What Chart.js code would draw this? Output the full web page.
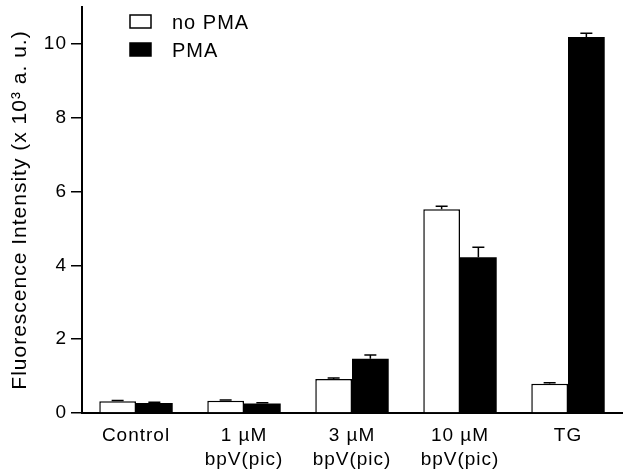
<!DOCTYPE html>
<html>
<head>
<meta charset="utf-8">
<script src="https://cdn.jsdelivr.net/npm/chart.js@4/dist/chart.umd.min.js"></script>
<style>
  html, body { margin: 0; padding: 0; background: #fff; }
  #wrap { width: 623px; height: 476px; }
</style>
</head>
<body>
<div id="wrap"><canvas id="bars" width="623" height="476"></canvas></div>
<script>
const categories = [['Control'], ['1 \u00b5M', 'bpV(pic)'], ['3 \u00b5M', 'bpV(pic)'], ['10 \u00b5M', 'bpV(pic)'], ['TG']];
const noPMA = [0.32, 0.33, 0.92, 5.52, 0.79];
const noPMAErr = [0.02, 0.02, 0.03, 0.08, 0.03];
const withPMA = [0.27, 0.26, 1.47, 4.22, 10.19];
const withPMAErr = [0.02, 0.02, 0.10, 0.27, 0.10];
const yTicks = [0, 2, 4, 6, 8, 10];

const font = 'Liberation Sans, Arial, Helvetica, sans-serif';

// scanned Helvetica looks a bit loose, widen the letters a touch
const spacing = {
  id: 'spacing',
  beforeInit(chart) { chart.ctx.letterSpacing = '1px'; },
  beforeDraw(chart) { chart.ctx.letterSpacing = '1px'; }
};

// error bars, upward only
const errorBars = {
  id: 'errorBars',
  afterDatasetsDraw(chart) {
    const ctx = chart.ctx;
    const y = chart.scales.y;
    ctx.save();
    ctx.strokeStyle = '#000';
    ctx.lineWidth = 1.5;
    chart.data.datasets.forEach((ds, i) => {
      const meta = chart.getDatasetMeta(i);
      meta.data.forEach((bar, j) => {
        const v = ds.data[j];
        const e = ds.errors[j];
        const y0 = y.getPixelForValue(v);
        const y1 = y.getPixelForValue(v + e);
        ctx.beginPath();
        ctx.moveTo(bar.x, y0);
        ctx.lineTo(bar.x, y1);
        ctx.moveTo(bar.x - 6, y1);
        ctx.lineTo(bar.x + 6, y1);
        ctx.stroke();
      });
    });
    ctx.restore();
  }
};

// simple vertical legend in the top left
const boxLegend = {
  id: 'boxLegend',
  afterDraw(chart) {
    const ctx = chart.ctx;
    ctx.save();
    const items = [
      { label: 'no PMA', fill: '#fff' },
      { label: 'PMA', fill: '#000' }
    ];
    ctx.font = '20px ' + font;
    ctx.textBaseline = 'middle';
    items.forEach((it, i) => {
      const top = 15 + i * 28;
      ctx.fillStyle = it.fill;
      ctx.fillRect(130, top, 21, 13);
      ctx.strokeStyle = '#000';
      ctx.lineWidth = 1.5;
      ctx.strokeRect(130, top, 21, 13);
      ctx.fillStyle = '#000';
      ctx.fillText(it.label, 172, top + 8);
    });
    ctx.restore();
  }
};

const chart = new Chart(document.getElementById('bars').getContext('2d'), {
  type: 'bar',
  data: {
    labels: categories,
    datasets: [{
      label: 'no PMA',
      data: noPMA,
      errors: noPMAErr,
      backgroundColor: '#fff',
      borderColor: '#000',
      borderWidth: 1.5,
      borderSkipped: 'bottom'
    }, {
      label: 'PMA',
      data: withPMA,
      errors: withPMAErr,
      backgroundColor: '#000',
      borderColor: '#000',
      borderWidth: 0
    }]
  },
  options: {
    responsive: false,
    animation: false,
    layout: { padding: { top: 7, right: 1, left: 0, bottom: 0 } },
    plugins: {
      legend: { display: false },
      tooltip: { enabled: false }
    },
    datasets: {
      bar: { categoryPercentage: 0.68, barPercentage: 1 }
    },
    scales: {
      x: {
        grid: { display: false },
        border: { color: '#000', width: 2 },
        ticks: {
          color: '#000',
          font: { family: font, size: 19, lineHeight: 1.25 },
          padding: 3,
          maxRotation: 0
        },
        afterFit(scale) { scale.height = 63; }
      },
      y: {
        min: 0,
        max: 11,
        afterBuildTicks(scale) { scale.ticks = yTicks.map(v => ({ value: v })); },
        grid: { drawOnChartArea: false, drawTicks: true, tickLength: 11, color: '#000', lineWidth: 1.5 },
        border: { color: '#000', width: 2 },
        ticks: {
          color: '#000',
          font: { family: font, size: 19 },
          padding: 4
        },
        title: {
          display: true,
          text: 'Fluorescence Intensity (x 10\u00b3 a. u.)',
          color: '#000',
          font: { family: font, size: 21 },
          padding: { top: 8, bottom: 0 }
        },
        afterFit(scale) {
          scale.width = 82;
          scale.paddingTop = 0;
          scale.paddingBottom = 0;
        }
      }
    }
  },
  plugins: [spacing, errorBars, boxLegend]
});
</script>
</body>
</html>
